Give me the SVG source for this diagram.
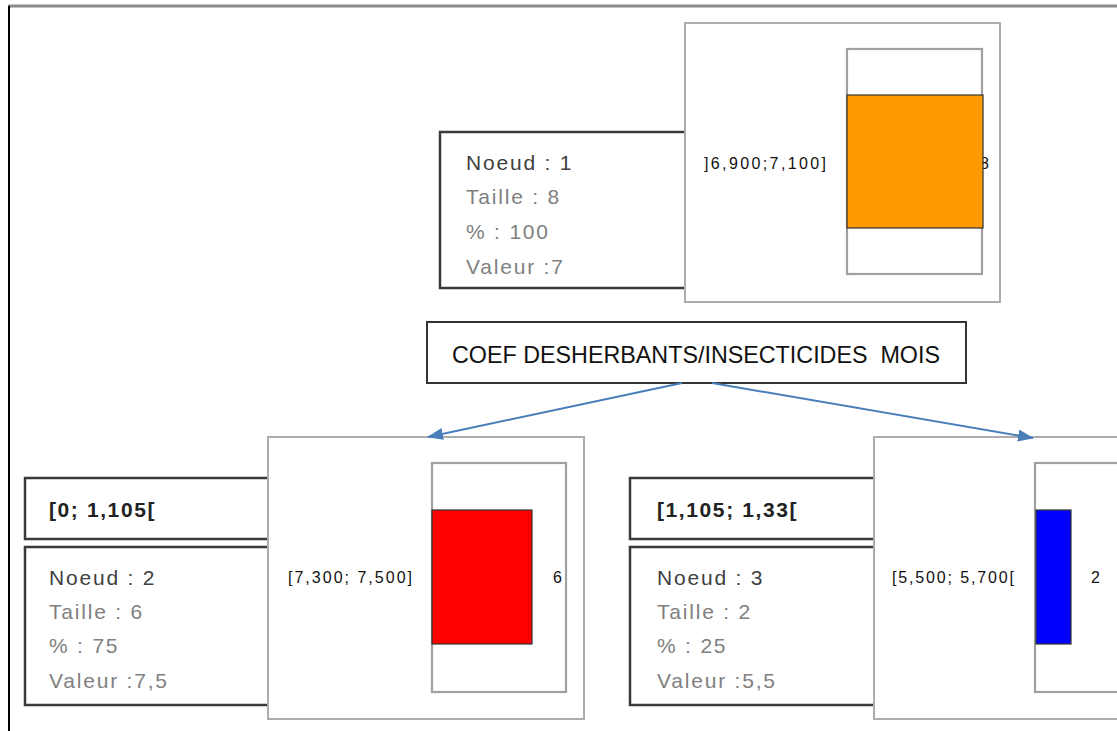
<svg xmlns="http://www.w3.org/2000/svg" width="1117" height="731" viewBox="0 0 1117 731">
<defs>
<style>
.info{fill:#fff;stroke:#3a3a3a;stroke-width:2.5}
.chart{fill:#fff;stroke:#acacac;stroke-width:2}
.frame{fill:#fff;stroke:#a0a0a0;stroke-width:2.2}
.bar{stroke:#333;stroke-width:1.2}
.t{font-family:"Liberation Sans",Arial,sans-serif;font-size:21px;letter-spacing:1.8px}
.n{fill:#404040}
.g{fill:#808080}
.h{font-family:"Liberation Sans",Arial,sans-serif;font-size:21px;font-weight:bold;fill:#222;letter-spacing:1.6px}
.lab{font-family:"Liberation Sans",Arial,sans-serif;font-size:16px;fill:#111}
.title{font-family:"Liberation Sans",Arial,sans-serif;font-size:24px;fill:#111;white-space:pre}
.conn{stroke:#4a7ebb;stroke-width:2;fill:none}
</style>
<marker id="ah" viewBox="0 0 16 12" refX="15" refY="6" markerWidth="16" markerHeight="12" orient="auto" markerUnits="userSpaceOnUse">
<path d="M0,0 L16,6 L0,12 z" fill="#4a7ebb"/>
</marker>
</defs>
<rect x="0" y="0" width="1117" height="731" fill="#fff"/>
<line x1="8" y1="6" x2="1117" y2="6" stroke="#8a8a8a" stroke-width="3"/>
<line x1="9" y1="6" x2="9" y2="731" stroke="#000" stroke-width="2"/>

<g id="node1">
<rect class="info" x="440" y="132" width="260" height="156"/>
<text class="t n" x="466" y="170">Noeud : 1</text>
<text class="t g" x="466" y="204">Taille : 8</text>
<text class="t g" x="466" y="239">% : 100</text>
<text class="t g" x="466" y="274">Valeur :7</text>
<rect class="chart" x="685" y="23" width="315" height="279"/>
<rect class="frame" x="847" y="49" width="135" height="225"/>
<text class="lab" x="704" y="169" textLength="122" lengthAdjust="spacing">]6,900;7,100]</text>
<text class="lab" x="980" y="169">8</text>
<rect class="bar" x="847" y="95" width="136" height="133" fill="#ff9900"/>
</g>

<g id="split">
<rect x="427" y="322" width="539" height="61" fill="#fff" stroke="#333" stroke-width="2"/>
<text class="title" x="452" y="363" textLength="488" lengthAdjust="spacingAndGlyphs" xml:space="preserve">COEF DESHERBANTS/INSECTICIDES  MOIS</text>
</g>

<g id="node2">
<rect class="info" x="25" y="478" width="255" height="61"/>
<text class="h" x="49" y="517">[0; 1,105[</text>
<rect class="info" x="25" y="547" width="255" height="158"/>
<text class="t n" x="49" y="585">Noeud : 2</text>
<text class="t g" x="49" y="619">Taille : 6</text>
<text class="t g" x="49" y="653">% : 75</text>
<text class="t g" x="49" y="688">Valeur :7,5</text>
<rect class="chart" x="268" y="437" width="316" height="282"/>
<rect class="frame" x="432" y="463" width="134" height="229"/>
<rect class="bar" x="432" y="510" width="100" height="134" fill="#ff0000"/>
<text class="lab" x="288" y="583" textLength="124" lengthAdjust="spacing">[7,300; 7,500]</text>
<text class="lab" x="553" y="583">6</text>
</g>

<g id="node3">
<rect class="info" x="630" y="478" width="255" height="61"/>
<text class="h" x="657" y="517">[1,105; 1,33[</text>
<rect class="info" x="630" y="547" width="255" height="158"/>
<text class="t n" x="657" y="585">Noeud : 3</text>
<text class="t g" x="657" y="619">Taille : 2</text>
<text class="t g" x="657" y="653">% : 25</text>
<text class="t g" x="657" y="688">Valeur :5,5</text>
<rect class="chart" x="874" y="437" width="330" height="282"/>
<rect class="frame" x="1035" y="463" width="170" height="229"/>
<rect class="bar" x="1036" y="510" width="35" height="134" fill="#0000ff"/>
<text class="lab" x="892" y="583" textLength="122" lengthAdjust="spacing">[5,500; 5,700[</text>
<text class="lab" x="1091" y="583">2</text>
</g>

<g id="connectors">
<line class="conn" x1="682" y1="383" x2="428" y2="437" marker-end="url(#ah)"/>
<line class="conn" x1="712" y1="383" x2="1033" y2="438" marker-end="url(#ah)"/>
</g>
</svg>
